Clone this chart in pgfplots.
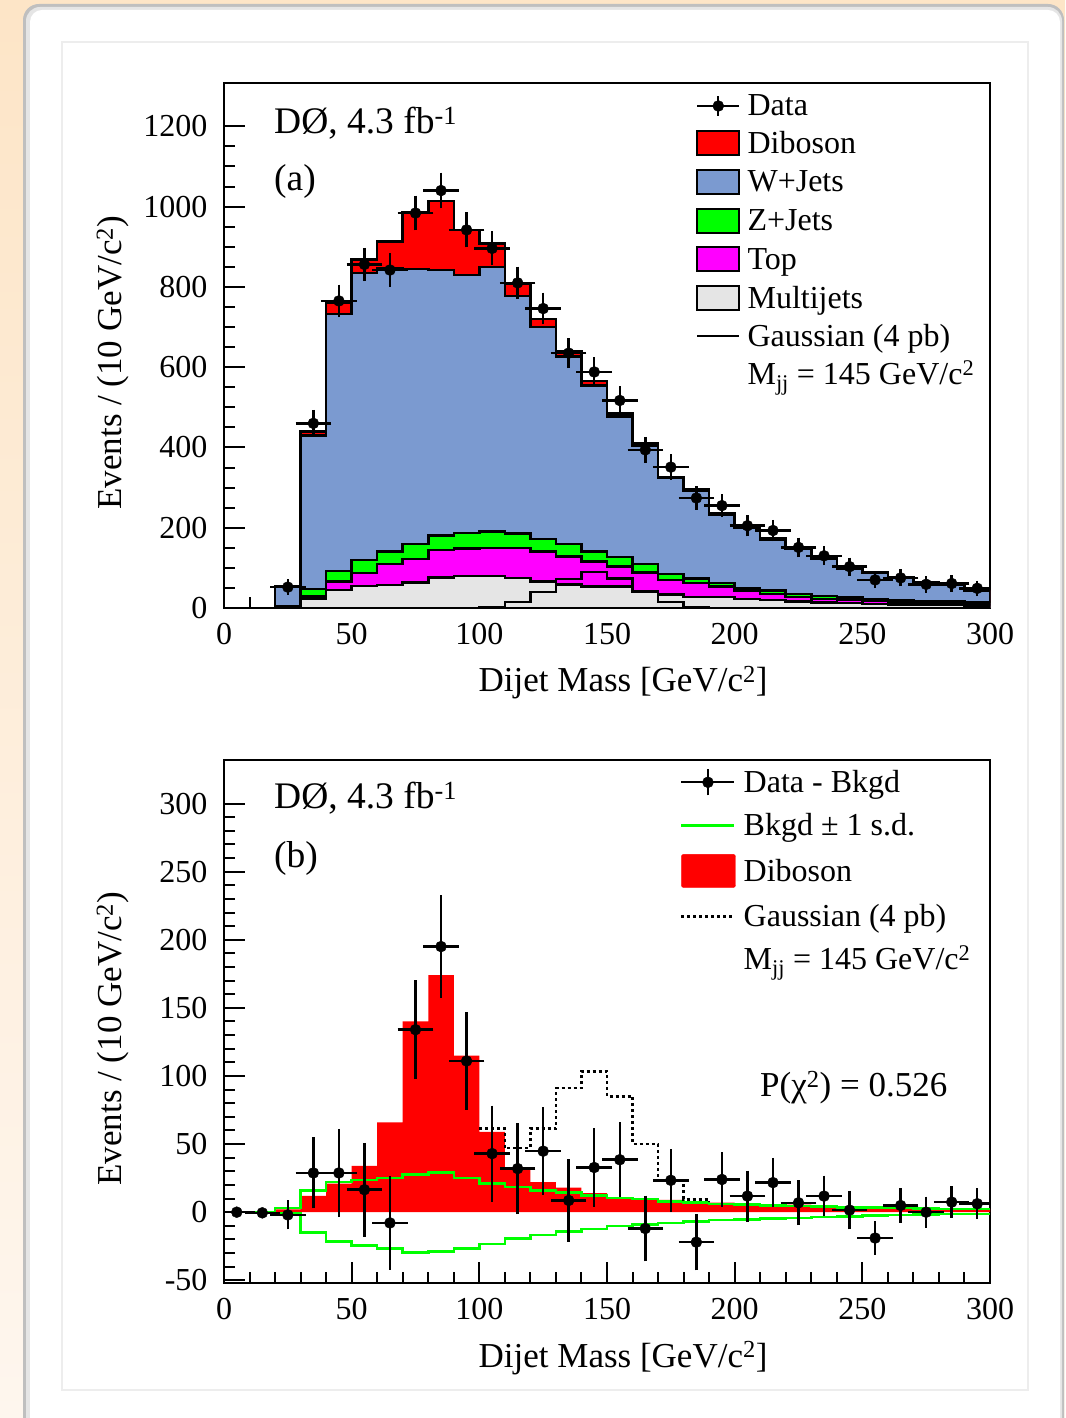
\documentclass[border=0pt]{standalone}
\usepackage{pgfplots}
\pgfplotsset{compat=1.18}
\usepackage{pgfplotstable}
\usepackage{amsmath}
\usepackage{fontspec}
\setmainfont{Liberation Serif}
\definecolor{wjets}{RGB}{123,154,208}
\definecolor{mjets}{RGB}{229,229,229}
\definecolor{zgreen}{RGB}{0,255,0}
\definecolor{topmag}{RGB}{255,0,255}
\definecolor{dibred}{RGB}{255,0,0}
\definecolor{bgtop}{RGB}{253,229,199}
\definecolor{bgbot}{RGB}{254,246,238}
\newcommand{\sps}[1]{$^{\text{#1}}$}
\newcommand{\sbs}[1]{$_{\text{#1}}$}

% cumulative stack tops, bin left edges (last row repeats)
\pgfplotstableread{
x   gray mag green blue red
20  2    3   4    54   55
30  22   29  47   430  440
40  45   66  92   733  760
50  55   87  120  835  868
60  57   109 141  846  913
70  64   122 160  844  986
80  76   145 180  842  1014
90  80   148 187  829  942
100 80   149 191  850  908
110 75   149 185  777  808
120 66   141 172  700  720
130 58   128 160  627  640
140 54   116 141  554  565
150 53   103 127  477  485
160 42   88  110  404  410
170 33   70  85   324  326
180 28   62  74   292  296
190 27   53  62   232  236
200 22   43  49   199  203
210 20   35  43   170  173
220 16   27  35   147  150
230 14   22  30   123  126
240 12   20  26   99   102
250 10   18  23   87   89
260 9    16  20   75   77
270 8    13  18   63   65
280 7    13  16   58   60
290 6    12  14   44   46
300 6    12  14   44   46
}\stack

\pgfplotstableread{
x   y    ex ey
25  52   5  7
35  460  5  21
45  765  5  28
55  856  5  29
65  842  5  29
75  984  5  31
85  1040 5  32
95  942  5  31
105 896  5  30
115 810  5  28
125 746  5  27
135 635  5  25
145 588  5  24
155 517  5  23
165 394  5  20
175 351  5  19
185 274  5  17
195 255  5  16
205 205  5  14
215 193  5  14
225 151  5  12
235 130  5  11
245 103  5  10
255 70   5  8
265 75   5  9
275 59   5  8
285 61   5  8
295 49   5  7
}\datatop

\pgfplotstableread{
x   y     ex ey
5   0     5  0
15  -0.5  5  0
25  -2    5  7
35  28.8  5  22.4
45  28.8  5  28.7
55  16.5  5  30.7
65  -7.9  5  30.7
75  134   5  32.6
85  195   5  33.9
95  111   5  32
105 43    5  31.5
115 32    5  29.8
125 44.8  5  28.6
135 8.6   5  26.5
145 32.8  5  25
155 38.5  5  24
165 -12   5  20.5
175 23.4  5  19.3
185 -22   5  17
195 24    5  16.4
205 11.8  5  15
215 21.7  5  14.5
225 6.9   5  12.8
235 11.8  5  11.3
245 1.5   5  10.5
255 -19   5  8.6
265 4.9   5  9
275 0     5  7.8
285 7.4   5  7.8
295 6.2   5  7.6
}\databot

\pgfplotstableread{
x   dib  up   lo
0   0    0    0
10  0    0    0
20  2    3    -1
30  12   16   -15
40  21   22   -21.7
50  34   23.5 -24.6
60  66   25   -26.6
70  140  27.5 -29.6
80  174  29   -29
90  115  25   -26.6
100 59   21   -23.4
110 32   18.5 -19.2
120 22   16   -16.7
130 18   14.3 -14.3
140 14   12.3 -12.3
150 11   10.5 -10.3
160 10   9.5  -9.1
170 9    8    -7.9
180 8    7    -6.7
190 7    6    -5.9
200 6.5  5.5  -5.4
210 6    5    -4.7
220 5.5  4.5  -4.2
230 5    4    -3.7
240 4.5  3.6  -3
250 4    3.3  -2.5
260 3.5  3    -2
270 3    2.7  -1.7
280 3    2.5  -1.5
290 2.5  2.3  -1.2
300 2.5  2.3  -1.2
}\bkg

\pgfplotsset{
  rootaxis/.style={
    scale only axis, width=766pt,
    xmin=0, xmax=300,
    tick pos=left, tick align=inside,
    xtick={0,50,...,300}, minor x tick num=4,
    major tick length=21pt, minor tick length=11pt,
    axis line style={line width=2pt},
    tick style={line width=2pt, black},
    tick label style={font=\fontsize{32}{38}\selectfont},
    xticklabel style={yshift=-12pt},
    yticklabel style={xshift=-13pt},
    /pgf/number format/assume math mode=true,
    /pgf/number format/1000 sep={},
    scaled y ticks=false,
    label style={font=\fontsize{35}{42}\selectfont},
    xlabel={Dijet Mass [GeV/c\sps{2}]},
    ylabel={Events / (10 GeV/c\sps{2})},
    x label style={at={(axis description cs:0.521,0)}, anchor=base, yshift=-84pt},
    y label style={at={(axis description cs:-0.1332,0.467)}, anchor=base},
    legend cell align=left,
  },
  hist/.style={const plot mark left, draw=black, line width=2.5pt, forget plot},
  datapts/.style={only marks, mark=*, mark size=5.5pt, black, forget plot,
    error bars/.cd, x dir=both, x explicit, y dir=both, y explicit,
    error bar style={line width=2.5pt, black},
    error mark options={line width=2.5pt, mark size=5pt, black}},
}

\begin{document}
\begin{tikzpicture}
\useasboundingbox (0pt,0pt) rectangle (1065pt,1418pt);
\shade[top color=bgtop, bottom color=bgbot] (0pt,0pt) rectangle (1065pt,1418pt);
\fill[black!25, rounded corners=16pt] (23pt,-40pt) rectangle (1064pt,1414pt);
\fill[black!10, rounded corners=14pt] (26pt,-40pt) rectangle (1062pt,1411pt);
\fill[white, rounded corners=12pt] (30pt,-40pt) rectangle (1060pt,1408pt);
\draw[black!7, line width=1.5pt] (62pt,28pt) rectangle (1028pt,1376pt);

% ---------------- top panel ----------------
\begin{axis}[rootaxis, at={(224pt,810pt)}, anchor=south west,
  height=525pt, ymin=0, ymax=1308,
  ytick={0,200,...,1200}, minor y tick num=3,
  legend style={draw=none, fill=none, at={(0.616,0.978)}, anchor=north west,
    font=\fontsize{32}{38}\selectfont, inner sep=0pt, row sep=12.8pt,
    column sep=7pt, nodes={inner sep=0pt}},
]
\addlegendimage{legend image code/.code={
  \draw[black, line width=2pt] (0pt,0pt) -- (42pt,0pt);
  \draw[black, line width=2pt] (21pt,-10pt) -- (21pt,10pt);
  \fill[black] (21pt,0pt) circle (5.5pt);}}
\addlegendentry{Data}
\addlegendimage{legend image code/.code={
  \draw[fill=dibred, draw=black, line width=2pt] (0pt,-12pt) rectangle (42pt,12pt);}}
\addlegendentry{Diboson}
\addlegendimage{legend image code/.code={
  \draw[fill=wjets, draw=black, line width=2pt] (0pt,-12pt) rectangle (42pt,12pt);}}
\addlegendentry{W+Jets}
\addlegendimage{legend image code/.code={
  \draw[fill=zgreen, draw=black, line width=2pt] (0pt,-12pt) rectangle (42pt,12pt);}}
\addlegendentry{Z+Jets}
\addlegendimage{legend image code/.code={
  \draw[fill=topmag, draw=black, line width=2pt] (0pt,-12pt) rectangle (42pt,12pt);}}
\addlegendentry{Top}
\addlegendimage{legend image code/.code={
  \draw[fill=mjets, draw=black, line width=2pt] (0pt,-12pt) rectangle (42pt,12pt);}}
\addlegendentry{Multijets}
\addlegendimage{legend image code/.code={
  \draw[black, line width=2.5pt] (0pt,0pt) -- (42pt,0pt);}}
\addlegendentry{Gaussian (4 pb)}
\addlegendimage{empty legend}
\addlegendentry{M\sbs{jj} = 145 GeV/c\sps{2}}

\addplot[hist, fill=dibred] table[x=x, y=red] {\stack} \closedcycle;
\addplot[hist, fill=wjets] table[x=x, y=blue] {\stack} \closedcycle;
\addplot[hist, fill=zgreen] table[x=x, y=green] {\stack} \closedcycle;
\addplot[hist, fill=topmag] table[x=x, y=mag] {\stack} \closedcycle;
\addplot[hist, fill=mjets] table[x=x, y=gray] {\stack} \closedcycle;
\addplot[hist] coordinates {(90,0) (100,3) (110,15) (120,40) (130,72) (140,90)
  (150,74) (160,40) (170,15) (180,3) (190,0) (200,0)};
\addplot[datapts] table[x=x, y=y, x error=ex, y error=ey] {\datatop};
\end{axis}

% ---------------- bottom panel ----------------
\begin{axis}[rootaxis, at={(224pt,135pt)}, anchor=south west,
  height=523pt, ymin=-52, ymax=332,
  ytick={-50,0,...,300}, minor y tick num=4,
  legend style={draw=none, fill=none, at={(0.5953,0.985)}, anchor=north west,
    font=\fontsize{32}{44}\selectfont, inner sep=0pt, row sep=17pt,
    column sep=8pt, nodes={inner sep=0pt}},
]
\addlegendimage{legend image code/.code={
  \draw[black, line width=2pt] (0pt,0pt) -- (53pt,0pt);
  \draw[black, line width=2.5pt] (26.5pt,-13pt) -- (26.5pt,13pt);
  \fill[black] (26.5pt,0pt) circle (5.5pt);}}
\addlegendentry{Data - Bkgd}
\addlegendimage{legend image code/.code={
  \draw[zgreen, line width=2.5pt] (0pt,0pt) -- (53pt,0pt);}}
\addlegendentry{Bkgd ± 1 s.d.}
\addlegendimage{legend image code/.code={
  \fill[dibred, rounded corners=2pt] (0pt,-16.5pt) rectangle (54pt,16.5pt);}}
\addlegendentry{Diboson}
\addlegendimage{legend image code/.code={
  \draw[black, line width=2.5pt, dash pattern=on 3pt off 3pt] (0pt,0pt) -- (53pt,0pt);}}
\addlegendentry{Gaussian (4 pb)}
\addlegendimage{empty legend}
\addlegendentry{M\sbs{jj} = 145 GeV/c\sps{2}}

\addplot[const plot mark left, fill=dibred, draw=none, forget plot]
  table[x=x, y=dib] {\bkg} \closedcycle;
\addplot[const plot mark left, zgreen, line width=2.5pt, forget plot]
  table[x=x, y=up] {\bkg};
\addplot[const plot mark left, zgreen, line width=2.5pt, forget plot]
  table[x=x, y=lo] {\bkg};
\addplot[const plot mark left, black, line width=2.5pt, dash pattern=on 3pt off 3pt, forget plot]
  coordinates {(100,61.6) (110,47) (120,61.6) (130,91) (140,103.4) (150,85)
  (160,50) (170,23) (180,9.4) (190,7.5)};
\addplot[datapts] table[x=x, y=y, x error=ex, y error=ey] {\databot};
\end{axis}

\node[anchor=base west, inner sep=0pt, font=\fontsize{37.5}{45}\selectfont] at (274pt,1284.5pt) {DØ, 4.3 fb\sps{-1}};
\node[anchor=base west, inner sep=0pt, font=\fontsize{37.5}{45}\selectfont] at (274pt,1227pt) {(a)};
\node[anchor=base west, inner sep=0pt, font=\fontsize{37.5}{45}\selectfont] at (274pt,609pt) {DØ, 4.3 fb\sps{-1}};
\node[anchor=base west, inner sep=0pt, font=\fontsize{37.5}{45}\selectfont] at (274pt,550pt) {(b)};
\node[anchor=base west, inner sep=0pt, font=\fontsize{35}{42}\selectfont] at (760pt,321pt) {P(χ\sps{2}) = 0.526};
\end{tikzpicture}
\end{document}
